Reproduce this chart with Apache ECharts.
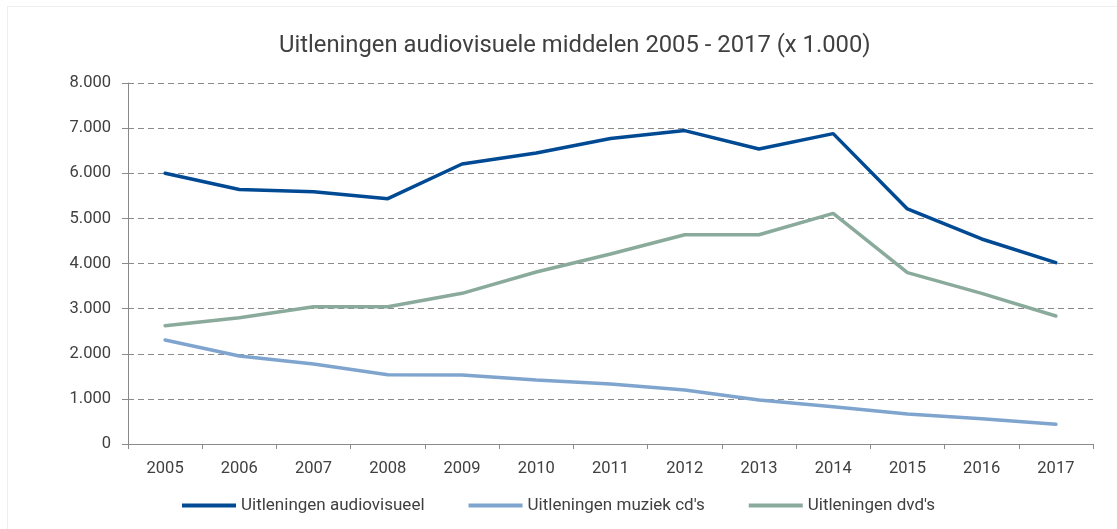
<!DOCTYPE html>
<html>
<head>
<meta charset="utf-8">
<script src="https://cdn.jsdelivr.net/npm/echarts@6/dist/echarts.min.js"></script>
<style>
  html, body { margin: 0; padding: 0; background: #fff; }
  #chart { width: 1117px; height: 529px; position: relative; }
  .frame { position: absolute; left: 7px; top: 6px; right: 0; bottom: 0; border-left: 1px solid #eeeeee; border-top: 1px solid #eeeeee; pointer-events: none; }
</style>
</head>
<body>
<div id="chart"></div>
<div class="frame"></div>
<script>
var years = ['2005', '2006', '2007', '2008', '2009', '2010', '2011', '2012', '2013', '2014', '2015', '2016', '2017']
var audiovisueel = [6000, 5640, 5590, 5436, 6205, 6450, 6770, 6945, 6537, 6878, 5208, 4543, 4018]
var muziekCds = [2305, 1950, 1773, 1536, 1530, 1418, 1330, 1197, 975, 827, 665, 561, 436]
var dvds = [2622, 2800, 3043, 3043, 3339, 3812, 4210, 4638, 4638, 5112, 3797, 3339, 2837]

var textColor = '#404040'
var axisColor = '#8a8a8a'
var font = 'Roboto'

var myChart = echarts.init(document.getElementById('chart'))
var option = {
  animation: false,
  title: {
    text: 'Uitleningen audiovisuele middelen 2005 - 2017 (x 1.000)',
    left: 274,
    top: 29,
    textStyle: { color: textColor, fontFamily: font, fontSize: 23.8, fontWeight: 'normal' }
  },
  legend: {
    left: 177,
    top: 492,
    itemGap: 44,
    icon: 'rect',
    itemWidth: 54,
    itemHeight: 4,
    textStyle: { color: textColor, fontFamily: font, fontSize: 17 }
  },
  grid: {
    left: 128,
    right: 24,
    top: 83,
    bottom: 85
  },
  xAxis: {
    type: 'category',
    data: years,
    boundaryGap: true,
    axisLine: { lineStyle: { color: axisColor, width: 1 } },
    axisTick: { show: true, length: 5, lineStyle: { color: axisColor } },
    axisLabel: { color: textColor, fontFamily: font, fontSize: 16.5, margin: 16 }
  },
  yAxis: {
    type: 'value',
    min: 0,
    max: 8000,
    interval: 1000,
    axisLine: { show: true, lineStyle: { color: axisColor, width: 1 } },
    axisTick: { show: true, length: 6, lineStyle: { color: axisColor } },
    axisLabel: {
      color: textColor,
      fontFamily: font,
      fontSize: 16.5,
      margin: 17,
      formatter: function (v) {
        return v === 0 ? '0' : (v / 1000) + '.000'
      }
    },
    splitLine: { show: true, lineStyle: { color: axisColor, type: [6, 4], width: 1 } }
  },
  series: [
    {
      name: 'Uitleningen audiovisueel',
      type: 'line',
      data: audiovisueel,
      symbol: 'none',
      color: '#004a94',
      lineStyle: { width: 3.5, cap: 'round' }
    },
    {
      name: "Uitleningen muziek cd's",
      type: 'line',
      data: muziekCds,
      symbol: 'none',
      color: '#7fa5cf',
      lineStyle: { width: 3.5, cap: 'round' }
    },
    {
      name: "Uitleningen dvd's",
      type: 'line',
      data: dvds,
      symbol: 'none',
      color: '#8aab9b',
      lineStyle: { width: 3.5, cap: 'round' }
    }
  ]
}
option && myChart.setOption(option)
</script>
</body>
</html>
